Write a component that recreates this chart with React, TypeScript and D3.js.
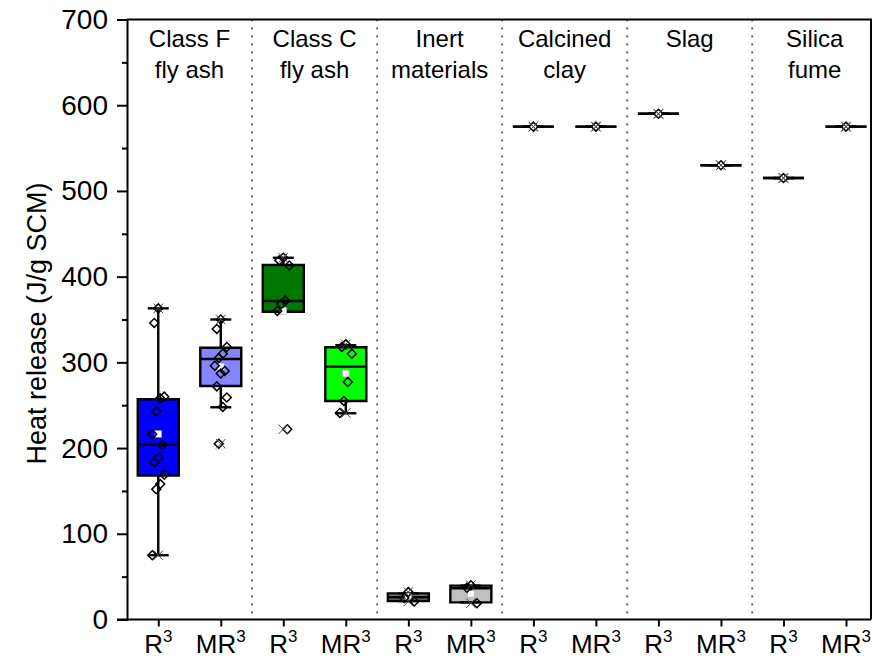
import { useEffect, useRef } from 'react'
import * as d3 from 'd3'

const groupLabels = [
  ['Class F', 'fly ash'],
  ['Class C', 'fly ash'],
  ['Inert', 'materials'],
  ['Calcined', 'clay'],
  ['Slag'],
  ['Silica', 'fume'],
]
const methodLabels = ['R', 'MR']
const exponent = '3'

// box statistics, one entry per box (R3, MR3 for each group)
const q1s = [167.8, 272.5, 359, 255, 21.5, 20, 575, 575, 590, 530, 515, 575]
const medians = [204, 304, 371.6, 295, 26, 36.5, 575, 575, 590, 530, 515, 575]
const q3s = [257, 317, 413.6, 317.6, 30.5, 39.5, 575, 575, 590, 530, 515, 575]
const whiskerLow = [75, 247.6, 359, 240.6, 21.5, 20, 575, 575, 590, 530, 515, 575]
const whiskerHigh = [363, 350, 422, 320, 30.5, 39.5, 575, 575, 590, 530, 515, 575]
const means = [216.5, 295, 360, 287, 27, 30, 575, 575, 590, 530, 515, 575]

const points = [
  [363, 346, 260, 258, 243, 216, 204, 189, 183, 169, 158, 152, 75],
  [350, 339, 318, 310, 305, 296, 290, 287, 272, 259, 248, 205],
  [422, 419, 413, 372, 368, 360, 222],
  [321, 318, 310, 277, 255, 241],
  [32, 25, 21],
  [40, 37, 19],
  [575],
  [575],
  [590],
  [530],
  [515],
  [575],
]

const fills = [
  '#0000FF', '#8585FF', '#007800', '#00FF00', '#7A7A7A', '#C0C0C0',
  '#FFFFFF', '#FFFFFF', '#FFFFFF', '#FFFFFF', '#FFFFFF', '#FFFFFF',
]

const FONT = '"Liberation Sans", Arial, sans-serif'

export default function App() {
  const svgRef = useRef<SVGSVGElement>(null)

  useEffect(() => {
    if (!svgRef.current) return
    const svg = d3.select(svgRef.current)
    svg.selectAll('*').remove()

    const left = 127
    const right = 871
    const top = 19.5
    const bottom = 619.5

    const x = d3.scaleLinear().domain([0.5, 12.4]).range([left, right])
    const y = d3.scaleLinear().domain([0, 700]).range([bottom, top])

    const boxW = 41
    const capW = 21
    const lw = 2.4

    // group separators
    for (let g = 1; g < groupLabels.length; g++) {
      svg.append('line')
        .attr('x1', x(g * 2 + 0.5)).attr('x2', x(g * 2 + 0.5))
        .attr('y1', top).attr('y2', bottom)
        .attr('stroke', '#444')
        .attr('stroke-width', 1.8)
        .attr('stroke-dasharray', '1.8,6.2')
    }

    // group labels
    groupLabels.forEach((lines, g) => {
      const t = svg.append('text')
        .attr('x', x(g * 2 + 1.5))
        .attr('text-anchor', 'middle')
        .style('font-family', FONT)
        .style('font-size', '24px')
        .attr('fill', '#000')
      lines.forEach((ln, i) => {
        t.append('tspan')
          .attr('x', x(g * 2 + 1.5))
          .attr('y', 47 + i * 31)
          .text(ln)
      })
    })

    const diamond = d3.symbol(d3.symbolSquare, 40)
    const cross = d3.symbol(d3.symbolTimes, 60)
    const meanSym = d3.symbol(d3.symbolSquare, 46)

    points.forEach((pts, i) => {
      const cx = x(i + 1)
      const g = svg.append('g')

      g.append('line')
        .attr('x1', cx).attr('x2', cx)
        .attr('y1', y(whiskerLow[i])).attr('y2', y(whiskerHigh[i]))
        .attr('stroke', '#000').attr('stroke-width', lw)

      const x0 = cx - boxW / 2
      const x1 = cx + boxW / 2
      g.append('path')
        .attr('d', `M${x0},${y(q3s[i])}H${x1}V${y(q1s[i])}H${x0}Z`)
        .attr('fill', fills[i])
        .attr('stroke', '#000')
        .attr('stroke-width', lw)

      g.append('line')
        .attr('x1', x0).attr('x2', x1)
        .attr('y1', y(medians[i])).attr('y2', y(medians[i]))
        .attr('stroke', '#000').attr('stroke-width', lw)

      ;[whiskerLow[i], whiskerHigh[i]].forEach(v => {
        g.append('line')
          .attr('x1', cx - capW / 2).attr('x2', cx + capW / 2)
          .attr('y1', y(v)).attr('y2', y(v))
          .attr('stroke', '#000').attr('stroke-width', lw)
      })

      // mean
      g.append('path')
        .attr('d', meanSym)
        .attr('transform', `translate(${cx},${y(means[i])})`)
        .attr('fill', '#fff')
        .attr('stroke', '#999')
        .attr('stroke-width', 0.5)

      // data points
      pts.forEach((v, j) => {
        const off = pts.length > 1 ? ((j * 5 + 3) % 7 - 3) * 2 : 0
        g.append('path')
          .attr('d', diamond)
          .attr('transform', `translate(${cx + off},${y(v)}) rotate(45)`)
          .attr('fill', 'none')
          .attr('stroke', '#000')
          .attr('stroke-width', 1.5)
      })

      // min / max
      const ext = d3.extent(pts) as [number, number]
      ext.forEach(v => {
        g.append('path')
          .attr('d', cross)
          .attr('transform', `translate(${cx},${y(v)})`)
          .attr('fill', 'none')
          .attr('stroke', '#444')
          .attr('stroke-width', 1)
      })
    })

    // frame
    svg.append('path')
      .attr('d', `M${left},${top}H${right}V${bottom}`)
      .attr('fill', 'none')
      .attr('stroke', '#000')
      .attr('stroke-width', 2)

    // y axis
    const yAxis = svg.append('g')
      .attr('transform', `translate(${left},0)`)
      .call(d3.axisLeft(y).tickValues(d3.range(0, 701, 100)).tickSize(10).tickPadding(9))
    yAxis.select('.domain').attr('stroke-width', 2)
    yAxis.selectAll('line').attr('stroke-width', 2)
    yAxis.selectAll('text')
      .style('font-family', FONT)
      .style('font-size', '28px')
      .attr('fill', '#000')

    const yMinor = svg.append('g')
      .attr('transform', `translate(${left},0)`)
      .call(d3.axisLeft(y).tickValues(d3.range(50, 700, 100)).tickSize(5).tickFormat(() => ''))
    yMinor.select('.domain').remove()
    yMinor.selectAll('line').attr('stroke-width', 2)

    // x axis
    const xAxis = svg.append('g')
      .attr('transform', `translate(0,${bottom})`)
      .call(d3.axisBottom(x).tickValues(d3.range(1, 13)).tickSize(7).tickFormat(() => ''))
    xAxis.select('.domain').attr('d', `M${left - 10},0H${right}`).attr('stroke-width', 2)
    xAxis.selectAll('line').attr('stroke-width', 2)

    d3.range(1, 13).forEach((k, i) => {
      const t = svg.append('text')
        .attr('x', x(k))
        .attr('y', bottom + 33)
        .attr('text-anchor', 'middle')
        .style('font-family', FONT)
        .style('font-size', '26px')
        .attr('fill', '#000')
      t.append('tspan').text(methodLabels[i % 2])
      t.append('tspan')
        .attr('dy', -11)
        .style('font-size', '17px')
        .text(exponent)
    })

    // y title
    svg.append('text')
      .attr('transform', `translate(46,${(top + bottom) / 2 + 4}) rotate(-90)`)
      .attr('text-anchor', 'middle')
      .style('font-family', FONT)
      .style('font-size', '27px')
      .attr('fill', '#000')
      .text('Heat release (J/g SCM)')
  }, [])

  return (
    <svg
      ref={svgRef}
      width={881}
      height={664}
      style={{ position: 'absolute', left: 0, top: 0, background: '#fff' }}
    />
  )
}
